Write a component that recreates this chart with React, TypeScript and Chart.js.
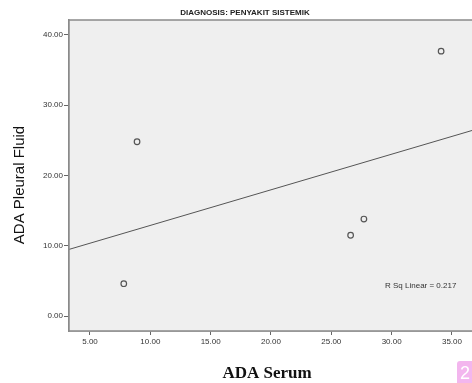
import React, { useEffect, useRef } from "react";
import { Chart, registerables } from "chart.js";

Chart.register(...registerables);

const serumValues = [7.8, 8.9, 26.6, 27.7, 34.1];
const pleuralValues = [4.6, 24.8, 11.5, 13.8, 37.7];
const xTicks = [5, 10, 15, 20, 25, 30, 35];
const yTicks = [0, 10, 20, 30, 40];
const chartTitle = "DIAGNOSIS: PENYAKIT SISTEMIK";
const xTitle = "ADA Serum";
const yTitle = "ADA Pleural Fluid";
const rSqLabel = "R Sq Linear = 0.217";
const pageBadge = "2";

const X_MIN = 3.26;
const X_MAX = 36.66;
const Y_MIN = -2.13;
const Y_MAX = 42.13;

function fitLine(xs: number[], ys: number[]) {
  const n = xs.length;
  const mx = xs.reduce((a, b) => a + b, 0) / n;
  const my = ys.reduce((a, b) => a + b, 0) / n;
  let sxy = 0;
  let sxx = 0;
  for (let i = 0; i < n; i++) {
    sxy += (xs[i] - mx) * (ys[i] - my);
    sxx += (xs[i] - mx) * (xs[i] - mx);
  }
  const slope = sxy / sxx;
  const intercept = my - slope * mx;
  return { slope, intercept };
}

const decorPlugin = {
  id: "decor",
  beforeDatasetsDraw(chart: any) {
    const { ctx, chartArea } = chart;
    ctx.save();
    ctx.fillStyle = "#efefef";
    ctx.fillRect(chartArea.left, chartArea.top, chartArea.right - chartArea.left + 10, chartArea.bottom - chartArea.top);
    ctx.restore();
  },
  afterDraw(chart: any) {
    const { ctx, chartArea } = chart;
    ctx.save();
    ctx.strokeStyle = "#8a8a8a";
    ctx.lineWidth = 1.5;
    ctx.strokeRect(chartArea.left, chartArea.top, chartArea.right - chartArea.left + 10, chartArea.bottom - chartArea.top);

    ctx.fillStyle = "#222";
    ctx.font = "bold 8px 'Liberation Sans', Arial, sans-serif";
    ctx.textAlign = "center";
    ctx.textBaseline = "middle";
    ctx.fillText(chartTitle, 245, 13);

    ctx.fillStyle = "#333";
    ctx.font = "8px 'Liberation Sans', Arial, sans-serif";
    ctx.textAlign = "left";
    ctx.fillText(rSqLabel, 385, 286);

    ctx.fillStyle = "#111";
    ctx.font = "bold 17px 'Liberation Serif', 'Times New Roman', serif";
    ctx.textAlign = "center";
    ctx.fillText(xTitle, 267, 374);

    ctx.save();
    ctx.translate(20, 185);
    ctx.rotate(-Math.PI / 2);
    ctx.font = "15px 'Liberation Sans', Arial, sans-serif";
    ctx.fillStyle = "#111";
    ctx.fillText(yTitle, 0, 0);
    ctx.restore();

    ctx.fillStyle = "#f3b6ee";
    ctx.beginPath();
    ctx.roundRect(457, 361, 30, 30, 3);
    ctx.fill();
    ctx.fillStyle = "#ffffff";
    ctx.font = "18px 'Liberation Sans', Arial, sans-serif";
    ctx.textAlign = "left";
    ctx.fillText(pageBadge, 460, 374);
    ctx.restore();
  },
};

export default function App() {
  const canvasRef = useRef<HTMLCanvasElement | null>(null);

  useEffect(() => {
    document.body.style.margin = "0";
    document.body.style.overflow = "hidden";
    const { slope, intercept } = fitLine(serumValues, pleuralValues);
    const points = serumValues.map((x, i) => ({ x, y: pleuralValues[i] }));
    const linePts = [
      { x: X_MIN, y: intercept + slope * X_MIN },
      { x: X_MAX, y: intercept + slope * X_MAX },
    ];
    const tickFont = { family: "'Liberation Sans', Arial, sans-serif", size: 8 };
    const chart = new Chart(canvasRef.current!, {
      type: "scatter",
      data: {
        datasets: [
          {
            type: "line",
            data: linePts,
            borderColor: "#555",
            borderWidth: 1,
            pointRadius: 0,
            fill: false,
          } as any,
          {
            data: points,
            pointRadius: 2.8,
            pointBorderWidth: 1.2,
            pointBorderColor: "#555",
            pointBackgroundColor: "rgba(0,0,0,0)",
          },
        ],
      },
      options: {
        animation: false,
        responsive: false,
        layout: { autoPadding: false, padding: { top: 20, left: 0, right: 0, bottom: 0 } },
        plugins: { legend: { display: false }, tooltip: { enabled: false }, title: { display: false } },
        scales: {
          x: {
            type: "linear",
            min: X_MIN,
            max: X_MAX,
            afterBuildTicks: (s: any) => {
              s.ticks = xTicks.map((v) => ({ value: v }));
            },
            afterFit: (s: any) => {
              s.height = 52;
              s.paddingLeft = 0;
              s.paddingRight = 0;
            },
            ticks: {
              font: tickFont,
              color: "#333",
              padding: 2,
              maxRotation: 0,
              callback: (v: any) => Number(v).toFixed(2),
            },
            grid: { drawOnChartArea: false, drawTicks: true, tickLength: 4, tickColor: "#666" },
            border: { display: true, color: "#8a8a8a", width: 1.5 },
          },
          y: {
            type: "linear",
            min: Y_MIN,
            max: Y_MAX,
            afterBuildTicks: (s: any) => {
              s.ticks = yTicks.map((v) => ({ value: v }));
            },
            afterFit: (s: any) => {
              s.width = 69;
              s.paddingTop = 0;
              s.paddingBottom = 0;
            },
            ticks: {
              font: tickFont,
              color: "#333",
              padding: 1,
              callback: (v: any) => Number(v).toFixed(2),
            },
            grid: { drawOnChartArea: false, drawTicks: true, tickLength: 5, tickColor: "#666" },
            border: { display: true, color: "#8a8a8a", width: 1.5 },
          },
        },
      },
      plugins: [decorPlugin],
    });
    return () => chart.destroy();
  }, []);

  return (
    <div style={{ width: 472, height: 383, position: "relative", background: "#fff" }}>
      <canvas ref={canvasRef} width={472} height={383} style={{ display: "block" }} />
    </div>
  );
}
